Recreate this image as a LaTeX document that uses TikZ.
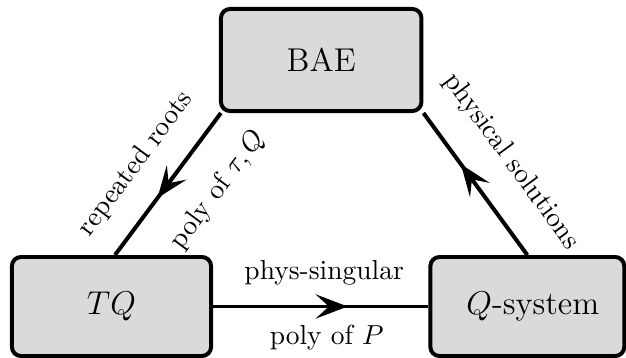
\documentclass[tikz,border=0pt]{standalone}
\usetikzlibrary{arrows.meta,decorations.markings}
\pgfdeclarelayer{bg}
\pgfsetlayers{bg,main}
\definecolor{boxfill}{gray}{0.855}
\begin{document}
\begin{tikzpicture}[x=0.3636pt,y=-0.3636pt,
  box/.style={draw, line width=1.45pt, fill=boxfill, rounded corners=3.3pt, font=\large, inner sep=0pt},
  conn/.style={line width=1.45pt},
  midarrow/.style={postaction={decorate}, decoration={markings, mark=at position #1 with {\arrow{Stealth[length=11.6pt,width=8.8pt,inset=4.8pt]}}}},
  lab/.style={font=\normalsize, inner sep=0pt, sloped}]
\useasboundingbox (0,0) rectangle (626,358);
\node[box, minimum width=72.9pt, minimum height=37.1pt] (BAE) at (321.2,60) {BAE};
\node[box, minimum width=72.4pt, minimum height=36pt] (TQ) at (111.5,306.5) {$TQ$};
\node[box, minimum width=70.5pt, minimum height=36pt] (QS) at (527.3,306.5) {\hspace*{4pt}$Q$-system};
\begin{pgfonlayer}{bg}
\draw[conn, midarrow=0.6] ([xshift=0.7pt]BAE.south west) -- ([xshift=1.27pt]TQ.north)
  node[lab, pos=0.516, yshift=13.7pt] {repeated roots}
  node[lab, pos=0.358, yshift=-15.8pt] {poly of $\tau,Q$};
\draw[conn, midarrow=0.64] (QS.north) -- (BAE.south east)
  node[lab, pos=0.482, yshift=15.4pt] {physical solutions};
\draw[conn, midarrow=0.625] (TQ.east) -- (QS.west)
  node[lab, pos=0.516, yshift=12.3pt] {phys-singular}
  node[lab, pos=0.528, yshift=-11.4pt] {poly of $P$};
\end{pgfonlayer}
\end{tikzpicture}
\end{document}
